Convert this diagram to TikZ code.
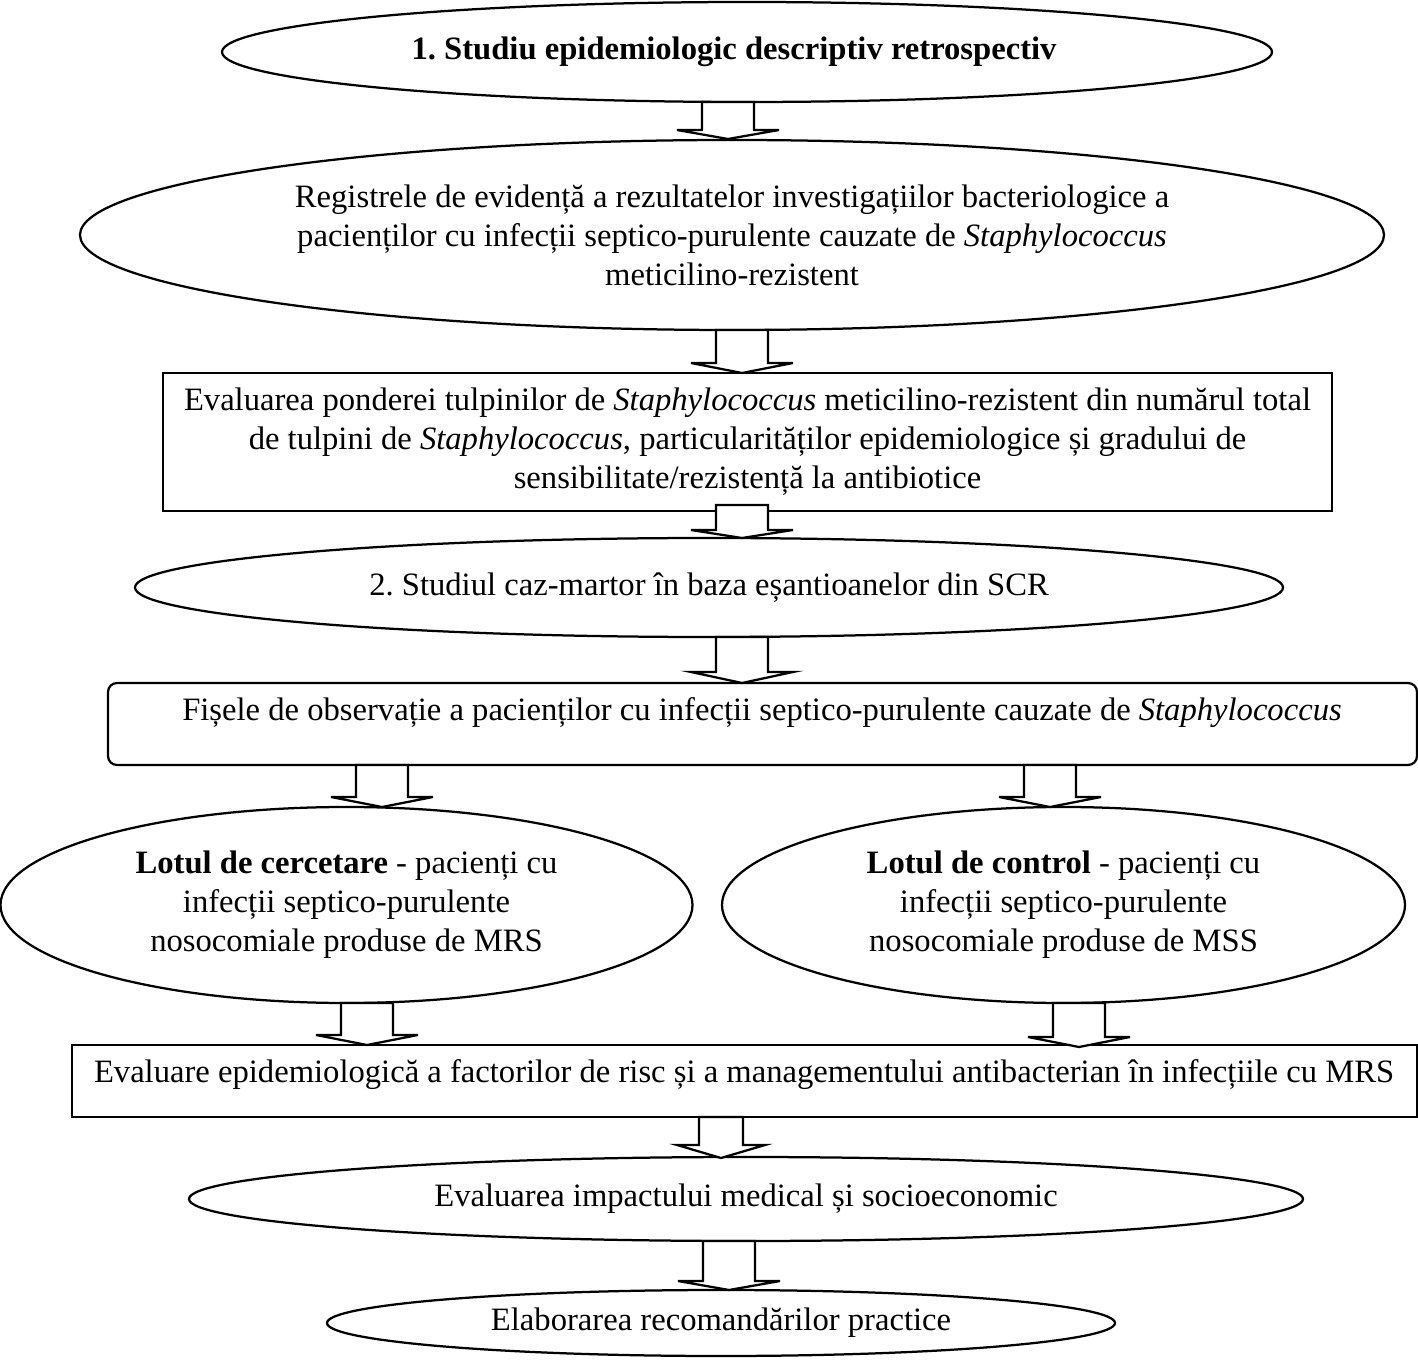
\documentclass[tikz,border=0pt]{standalone}
\usepackage{fontspec}
\setmainfont{Liberation Serif}
\usetikzlibrary{shapes.geometric}
\frenchspacing
\newcommand\pxu{0.0125cm}
\newcommand\blockarr[6]{% cx, top, headY, tip, half shaft, half head
  \draw[barrow] ({#1-#5},#2) -- ({#1-#5},#3) -- ({#1-#6},#3) -- (#1,#4)
    -- ({#1+#6},#3) -- ({#1+#5},#3) -- ({#1+#5},#2) -- cycle;}
\tikzset{
  base/.style={draw, line width=0.8pt, inner sep=0pt, align=center,
    font=\fontsize{11.6}{13.87}\selectfont},
  oval/.style={base, ellipse},
  box/.style={base, rectangle},
  rbox/.style={base, rectangle, rounded corners=9*\pxu},
  txt/.style={inner sep=0pt, align=center, font=\fontsize{11.6}{13.87}\selectfont},
  barrow/.style={draw, fill=white, line width=0.8pt, line join=miter},
}
\begin{document}
\begin{tikzpicture}[x=\pxu, y=-\pxu]
\useasboundingbox[fill=white] (0,0) rectangle (1418,1362);

\node[oval, minimum width=1050*\pxu, minimum height=100*\pxu] (e1) at (747,52) {};
\node[txt] (t1) at (734,52) {\textbf{1. Studiu epidemiologic descriptiv retrospectiv}};
\node[oval, minimum width=1304*\pxu, minimum height=190*\pxu] (e2) at (732,235)
  {Registrele de evidență a rezultatelor investigațiilor bacteriologice a\\
   pacienților cu infecții septico-purulente cauzate de \textit{Staphylococcus}\\
   meticilino-rezistent};
\node[box, minimum width=1169*\pxu, minimum height=138*\pxu] (r3) at (747.5,442)
  {Evaluarea ponderei tulpinilor de \textit{Staphylococcus} meticilino-rezistent din numărul total\\
   de tulpini de \textit{Staphylococcus}, particularităților epidemiologice și gradului de\\
   sensibilitate/rezistență la antibiotice};
\node[oval, minimum width=1148*\pxu, minimum height=99*\pxu] (e4) at (709,587.5)
  {2. Studiul caz-martor în baza eșantioanelor din SCR};
\node[rbox, minimum width=1309*\pxu, minimum height=82*\pxu] (r5) at (762.5,724) {};
\node[txt] (t5) at (762,713)
  {Fișele de observație a pacienților cu infecții septico-purulente cauzate de \textit{Staphylococcus}};
\node[oval, minimum width=692*\pxu, minimum height=196*\pxu] (e6l) at (346.5,905)
  {\textbf{Lotul de cercetare} - pacienți cu\\
   infecții septico-purulente\\
   nosocomiale produse de MRS};
\node[oval, minimum width=683*\pxu, minimum height=196*\pxu] (e6r) at (1063.5,905)
  {\textbf{Lotul de control} - pacienți cu\\
   infecții septico-purulente\\
   nosocomiale produse de MSS};
\node[box, minimum width=1345*\pxu, minimum height=72*\pxu] (r7) at (744.5,1081) {};
\node[txt] (t7) at (744,1075)
  {Evaluare epidemiologică a factorilor de risc și a managementului antibacterian în infecțiile cu MRS};
\node[oval, minimum width=1114*\pxu, minimum height=84*\pxu] (e8) at (746,1199)
  {Evaluarea impactului medical și socioeconomic};
\node[oval, minimum width=788*\pxu, minimum height=66*\pxu] (e9) at (721,1323)
  {Elaborarea recomandărilor practice};

\blockarr{728}{102}{130}{139}{26}{51}
\blockarr{742}{330}{363}{373}{26}{51}
\blockarr{742}{505}{530}{538}{26}{51}
\blockarr{742}{637}{672}{683}{26}{51}
\blockarr{382}{765}{797}{807}{26}{51}
\blockarr{1050}{765}{797}{807}{26}{51}
\blockarr{367}{1003}{1035}{1045}{26}{51}
\blockarr{1079}{1003}{1037}{1047}{26}{51}
\blockarr{721}{1117}{1145}{1158}{22}{44}
\blockarr{729}{1241}{1281}{1290}{26}{51}
\end{tikzpicture}
\end{document}
